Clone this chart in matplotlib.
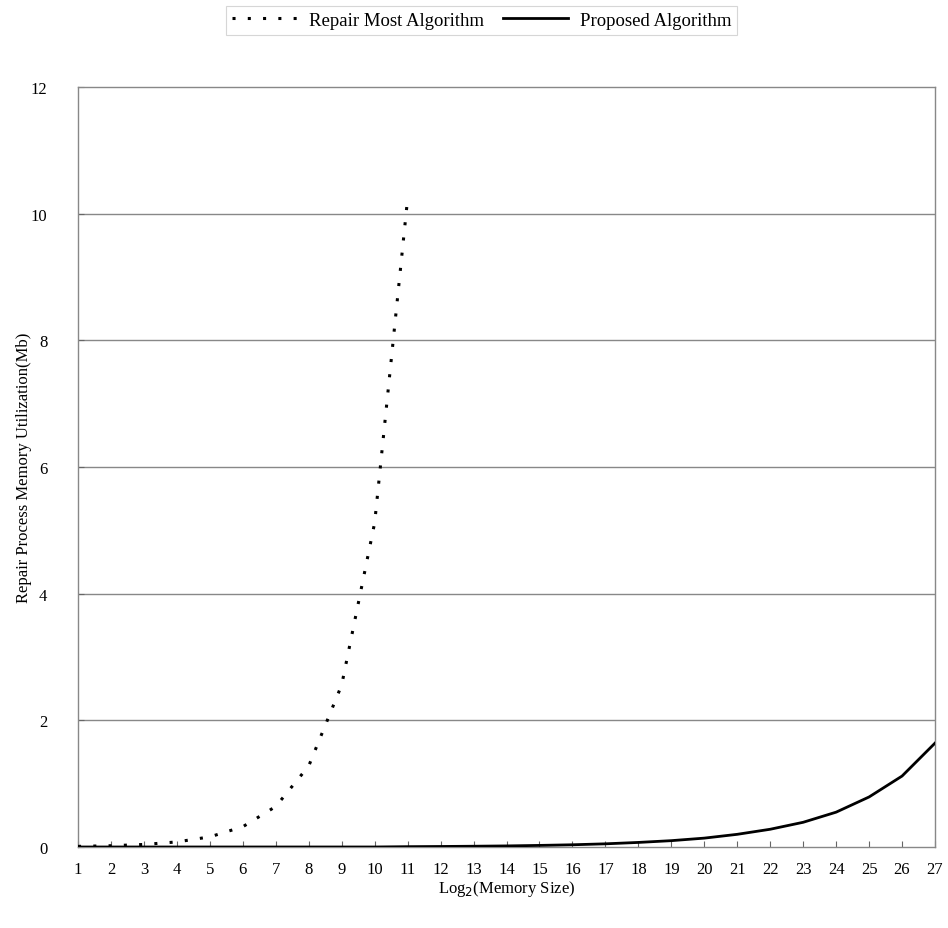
import matplotlib
matplotlib.use("Agg")
import matplotlib.pyplot as plt

plt.rcParams['font.family'] = ['Liberation Serif', 'DejaVu Serif']

# Data
x_repair = [1, 2, 3, 4, 5, 6, 7, 8, 9, 10, 11]
y_repair = [0.01, 0.02, 0.04, 0.08, 0.16, 0.32, 0.64, 1.28, 2.56, 5.12, 10.24]

x_proposed = list(range(1, 28))
y_proposed = [0.0, 0.0, 0.0, 0.0, 0.0, 0.0, 0.0, 0.0, 0.0, 0.0, 0.005, 0.008,
              0.012, 0.017, 0.025, 0.035, 0.05, 0.072, 0.1, 0.14, 0.2, 0.28,
              0.39, 0.55, 0.79, 1.12, 1.64]

y_ticks = [0, 2, 4, 6, 8, 10, 12]
x_ticks = list(range(1, 28))

fig = plt.figure(figsize=(9.48, 9.29), dpi=100)
ax = fig.add_axes([0.0823, 0.0872, 0.904, 0.8181])

for yv in y_ticks[1:-1]:
    ax.axhline(yv, color='#888888', lw=1.0, zorder=1)

l1, = ax.plot(x_repair, y_repair, color='black', lw=2.2, linestyle=(0, (1, 4)),
              label='Repair Most Algorithm', zorder=3)
l2, = ax.plot(x_proposed, y_proposed, color='black', lw=2.0,
              label='Proposed Algorithm', zorder=3)

ax.set_xlim(1, 27)
ax.set_ylim(0, 12)
ax.set_xticks(x_ticks)
ax.set_yticks(y_ticks)
ax.tick_params(axis='both', direction='in', length=4, color='#666666',
               labelsize=12)
ax.tick_params(axis='x', pad=10)
ax.tick_params(axis='y', pad=22)
for s in ax.spines.values():
    s.set_color('#888888')
    s.set_linewidth(1.0)

ax.set_ylabel('Repair Process Memory Utilization(Mb)', fontsize=12, labelpad=-1)
ax.set_xlabel('Log$_2$(Memory Size)', fontsize=12, labelpad=1)

leg = fig.legend(handles=[l1, l2], loc='center', bbox_to_anchor=(0.508, 0.977),
                 ncol=2, frameon=True, fontsize=13.5, handlelength=3.5,
                 columnspacing=1.0, handletextpad=0.6, fancybox=False,
                 borderpad=0.3)
leg.get_frame().set_edgecolor('#cccccc')
leg.get_frame().set_linewidth(0.8)

fig.savefig('out.png', dpi=100)
